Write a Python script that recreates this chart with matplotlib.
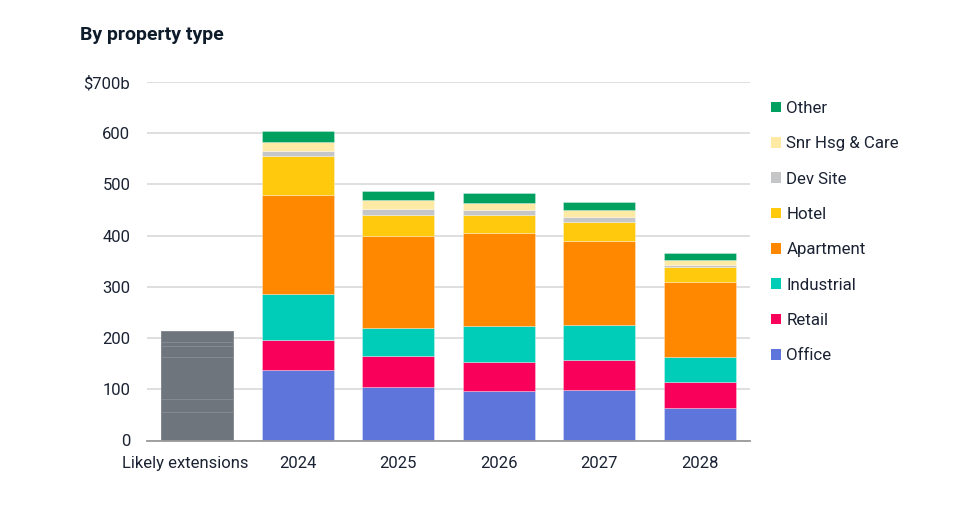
import matplotlib.pyplot as plt
from matplotlib.patches import Patch
from matplotlib.transforms import ScaledTranslation

plt.rcParams["font.family"] = ["Roboto", "DejaVu Sans"]

categories = ["Likely extensions", "2024", "2025", "2026", "2027", "2028"]
years = ["2024", "2025", "2026", "2027", "2028"]

# values in $b, bottom to top
office = [138, 104, 97, 98, 63]
retail = [58, 61, 57, 60, 52]
industrial = [90, 54, 70, 68, 48]
apartment = [194, 180, 182, 164, 146]
hotel = [75, 41, 34, 36, 30]
dev_site = [11, 12, 10, 11, 3]
snr_hsg = [17, 18, 14, 13, 10]
other = [22, 18, 20, 16, 15]

# likely extensions bar, stacked segments in one grey
extensions = [56, 25, 82, 22, 7, 22]

series = [
    ("Office", office, "#5e76db"),
    ("Retail", retail, "#f9005a"),
    ("Industrial", industrial, "#00cdb8"),
    ("Apartment", apartment, "#ff8800"),
    ("Hotel", hotel, "#ffc90e"),
    ("Dev Site", dev_site, "#c4c6c8"),
    ("Snr Hsg & Care", snr_hsg, "#ffeaa5"),
    ("Other", other, "#00a060"),
]

text_col = "#1a2233"
bar_w = 0.72

fig = plt.figure(figsize=(9.6, 5.16), dpi=100)
ax = fig.add_axes([147 / 960, 1 - 440.5 / 516, 603 / 960, 358.5 / 516])

# grey extensions bar
bottom = 0
for v in extensions:
    ax.bar(0, v, bar_w, bottom=bottom, color="#6f757d",
           edgecolor="#868b92", linewidth=0.7, zorder=2)
    bottom += v

# stacked property-type bars
x = list(range(1, len(years) + 1))
bottoms = [0] * len(years)
handles = []
for name, vals, col in series:
    ax.bar(x, vals, bar_w, bottom=bottoms, color=col,
           edgecolor=(1, 1, 1, 0.35), linewidth=0.6, zorder=2)
    bottoms = [b + v for b, v in zip(bottoms, vals)]
    handles.append(Patch(facecolor=col, edgecolor="none", label=name))

ax.set_xlim(-0.5, 5.5)
ax.set_ylim(0, 700)
ax.set_yticks(range(0, 701, 100))
ax.set_yticklabels(["0", "100", "200", "300", "400", "500", "600", "$700b"])
ax.set_xticks(range(len(categories)))
ax.set_xticklabels(categories)

ax.grid(axis="y", color="#dcdcdc", linewidth=1.3, zorder=0)
ax.set_axisbelow(True)
for s in ["top", "right", "left"]:
    ax.spines[s].set_visible(False)
ax.spines["bottom"].set_color("#9a9a9a")
ax.spines["bottom"].set_linewidth(1.3)
ax.spines["bottom"].set_zorder(3)
ax.tick_params(axis="both", length=0, labelsize=12, labelcolor=text_col)
ax.tick_params(axis="y", pad=12)
ax.tick_params(axis="x", pad=11)

# first category label sits a little left of its bar
lbl = ax.get_xticklabels()[0]
lbl.set_transform(lbl.get_transform() + ScaledTranslation(-12.5 / 100, 0, fig.dpi_scale_trans))

leg = ax.legend(handles[::-1], [h.get_label() for h in handles[::-1]],
                loc="upper left", bbox_to_anchor=(771 / 960, 1 - 101 / 516),
                bbox_transform=fig.transFigure, frameon=False, fontsize=12.2,
                handlelength=0.6, handleheight=0.6, handletextpad=0.3,
                labelspacing=1.2, borderaxespad=0, borderpad=0)
for t in leg.get_texts():
    t.set_color(text_col)

fig.text(80 / 960, 1 - 35 / 516, "By property type", fontsize=14,
         fontweight="bold", color="#0d1b2a", va="center", ha="left")

fig.savefig("out.png", dpi=100)
